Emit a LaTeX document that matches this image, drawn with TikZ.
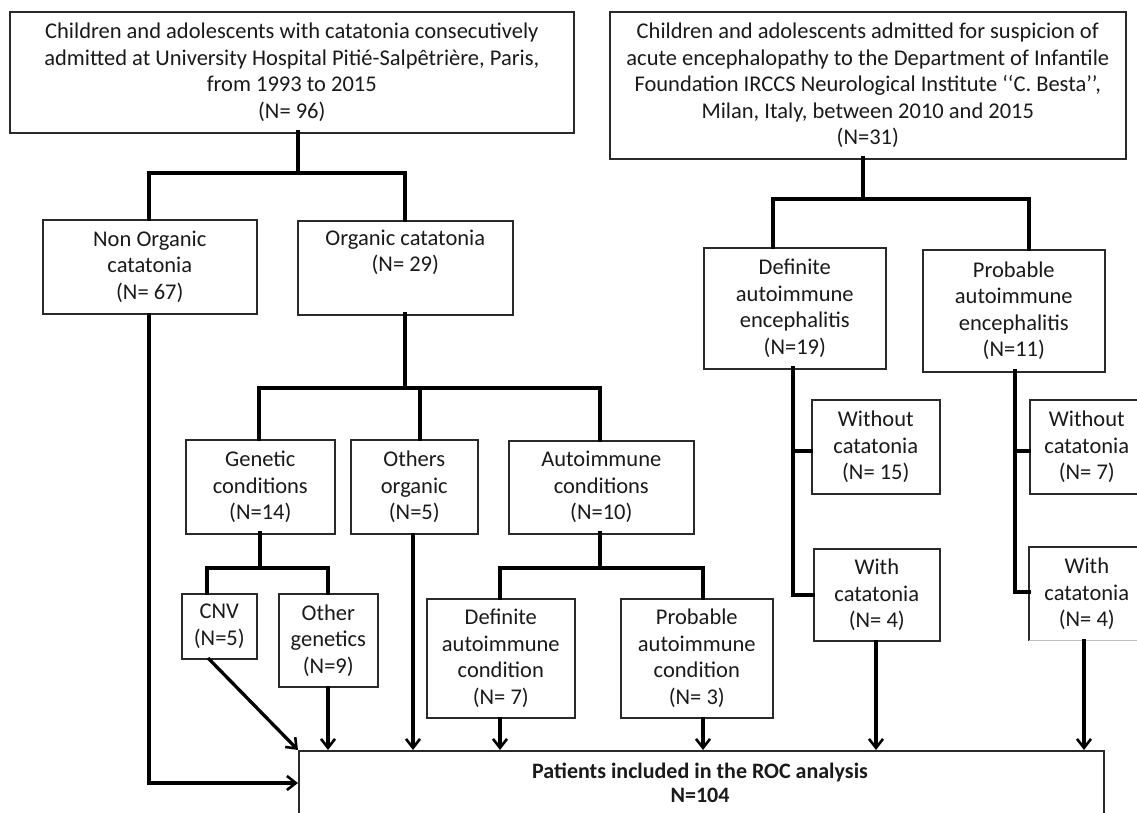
\documentclass[tikz,border=0pt]{standalone}
\usepackage{fontspec}
\setmainfont{Carlito}
\usetikzlibrary{arrows.meta}
\definecolor{txt}{HTML}{1A1A1A}
\definecolor{edge}{HTML}{2A2A2A}
\tikzset{
  box/.style={draw=edge, line width=1.6pt, align=center, inner sep=0pt, anchor=north west,
    text=txt, font=\fontsize{22.5}{26.5}\selectfont},
  link/.style={line width=3.3pt, line cap=rect},
  arr/.style={line width=3.3pt, line cap=butt, -{Straight Barb[length=9pt,width=14pt,line width=2.6pt]}},
}
\begin{document}
\begin{tikzpicture}[x=1pt,y=-1pt]
\useasboundingbox (0,0) rectangle (1137,813);
\clip (0,0) rectangle (1137,813);
\fill[white] (0,0) rectangle (1137,813);

% boxes
\node[box, minimum width=564pt, minimum height=121pt] (top1) at (9,11)
  {Children and adolescents with catatonia consecutively\\admitted at University Hospital Pitié-Salpêtrière, Paris,\\from 1993 to 2015\\(N= 96)};
\node[box, minimum width=516pt, minimum height=147pt] (top2) at (609,11)
  {Children and adolescents admitted for suspicion of\\acute encephalopathy to the Department of Infantile\\Foundation IRCCS Neurological Institute ‘‘C. Besta’’,\\Milan, Italy, between 2010 and 2015\\(N=31)};
\node[box, minimum width=214pt, minimum height=94pt] (nonorg) at (42,219)
  {Non Organic\\catatonia\\(N= 67)};
\node[box, minimum width=215pt, minimum height=94pt] (org) at (297,220)
  {Organic catatonia\\(N= 29)\\\strut};
\node[box, minimum width=149pt, minimum height=94pt] (gen) at (185,439)
  {Genetic\\conditions\\(N=14)};
\node[box, minimum width=127pt, minimum height=94pt] (oth) at (350,439)
  {Others\\organic\\(N=5)};
\node[box, minimum width=185pt, minimum height=93pt] (auto) at (508,440)
  {Autoimmune\\conditions\\(N=10)};
\node[box, minimum width=75pt, minimum height=65pt] (cnv) at (181,593)
  {CNV\\(N=5)};
\node[box, minimum width=99pt, minimum height=93pt] (othgen) at (278,593)
  {Other\\genetics\\(N=9)};
\node[box, minimum width=148pt, minimum height=119pt] (defac) at (426,598)
  {Definite\\autoimmune\\condition\\(N= 7)};
\node[box, minimum width=152pt, minimum height=119pt] (probac) at (620,598)
  {Probable\\autoimmune\\condition\\(N= 3)};
\node[box, minimum width=182pt, minimum height=121pt] (defae) at (703,247)
  {Definite\\autoimmune\\encephalitis\\(N=19)};
\node[box, minimum width=182pt, minimum height=122pt] (probae) at (922,249)
  {Probable\\autoimmune\\encephalitis\\(N=11)};
\node[box, minimum width=128pt, minimum height=94pt] (wo1) at (811,399)
  {Without\\catatonia\\(N= 15)};
\node[box, minimum width=126pt, minimum height=92pt] (w1) at (813,548)
  {With\\catatonia\\(N= 4)};
\node[box, minimum width=114pt, minimum height=94pt] (wo2) at (1029,399)
  {Without\\catatonia\\(N= 7)};
\node[box, draw=none, minimum width=114pt, minimum height=92pt] (w2) at (1029,547)
  {With\\catatonia\\(N= 4)};
\draw[edge, line width=1.6pt] (w2.south west) -- (w2.north west) -- (w2.north east);
\draw[black!25, line width=1.2pt] (w2.south west) -- (w2.south east);
\node[box, minimum width=805pt, minimum height=90pt] (roc) at (298,750) {};
\node[text=txt, font=\fontsize{22}{24}\selectfont\bfseries, align=center, anchor=north, inner sep=0pt]
  (roctxt) at (700,763) {Patients included in the ROC analysis\\N=104};

% left tree
\draw[link] (298,132) -- (298,173);
\draw[link] (149,219) -- (149,173) -- (405,173) -- (405,220);
\draw[link] (405,314) -- (405,388);
\draw[link] (259,439) -- (259,388) -- (600,388) -- (600,440);
\draw[link] (420,388) -- (420,439);
\draw[link] (260,533) -- (260,568);
\draw[link] (207,593) -- (207,568) -- (328,568) -- (328,593);
\draw[link] (600,533) -- (600,568);
\draw[link] (500,598) -- (500,568) -- (703,568) -- (703,598);

% right tree
\draw[link] (863,158) -- (863,199);
\draw[link] (773,247) -- (773,199) -- (1029,199) -- (1029,249);
\draw[link] (793,368) -- (793,595) -- (813,595);
\draw[link] (793,451) -- (811,451);
\draw[link] (1015,371) -- (1015,592) -- (1029,592);
\draw[link] (1015,451) -- (1029,451);

% arrows into ROC box
\draw[arr] (149,313) -- (149,783) -- (298,783);
\draw[arr] (208,658) -- (roc.north west);
\draw[arr] (328,686) -- (328,750);
\draw[arr] (413,533) -- (413,750);
\draw[arr] (500,717) -- (500,750);
\draw[arr] (703,717) -- (703,750);
\draw[arr] (876,640) -- (876,750);
\draw[arr] (1084,639) -- (1084,750);
\end{tikzpicture}
\end{document}
